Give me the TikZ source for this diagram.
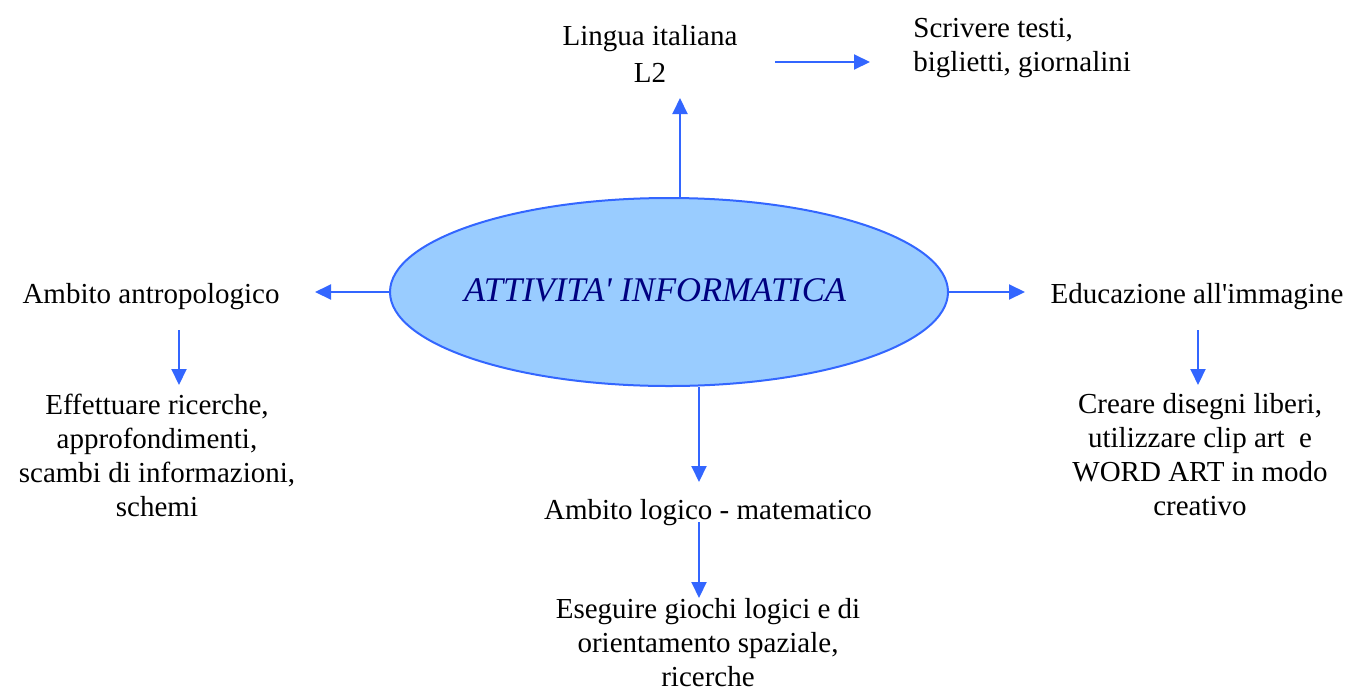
\documentclass[tikz,border=0pt]{standalone}
\usepackage{fontspec}
\setmainfont{Liberation Serif}
\usetikzlibrary{shapes.geometric,arrows.meta}
\definecolor{arrblue}{HTML}{3366FF}
\definecolor{ellfill}{HTML}{99CCFF}
\definecolor{navy}{HTML}{000080}
\begin{document}
\begin{tikzpicture}[x=0.5pt,y=-0.5pt,
  txt/.style={align=center,inner sep=0pt,font=\fontsize{14.5}{17}\selectfont},
  arr/.style={draw=arrblue,line width=1pt,-{Triangle[length=8pt,width=7.5pt]}}]
\useasboundingbox (0,0) rectangle (1348,691);
\node[ellipse,draw=arrblue,line width=1pt,fill=ellfill,minimum width=279pt,minimum height=94pt,inner sep=0pt] (el) at (669,292) {};
\node[txt,font=\fontsize{17.3}{20}\selectfont\itshape,text=navy] (eltxt) at (655,290) {ATTIVITA\textquotesingle{} INFORMATICA};
\node[txt,font=\fontsize{14.5}{18.5}\selectfont] (ling) at (650,54) {Lingua italiana\\L2};
\node[txt,align=left,anchor=west] (scr) at (913,48) {Scrivere testi,\\biglietti, giornalini};
\node[txt] (antro) at (151,297) {Ambito antropologico};
\node[txt] (eff) at (157,455) {Effettuare ricerche,\\approfondimenti,\\scambi di informazioni,\\schemi};
\node[txt] (edu) at (1197,297) {Educazione all\textquotesingle{}immagine};
\node[txt] (cre) at (1200,455) {Creare disegni liberi,\\utilizzare clip art\ \ e\\WORD ART in modo\\creativo};
\node[txt] (log) at (708,513) {Ambito logico - matematico};
\node[txt] (ese) at (708,643) {Eseguire giochi logici e di\\orientamento spaziale,\\ricerche};
\coordinate (upT) at (680,98);
\coordinate (dnT) at (699,482);
\coordinate (lfT) at (315,292);
\coordinate (rtT) at (1025,292);
\coordinate (lsS) at (775,62);
\coordinate (lsT) at (870,62);
\coordinate (aeS) at (179,330);
\coordinate (aeT) at (179,385);
\coordinate (ecS) at (1198,330);
\coordinate (ecT) at (1198,385);
\coordinate (leS) at (699,522);
\coordinate (leT) at (699,598);
\draw[arr] (el.north -| upT) -- (upT);
\draw[arr] (el.south -| dnT) -- (dnT);
\draw[arr] (el.west) -- (lfT);
\draw[arr] (el.east) -- (rtT);
\draw[arr] (lsS) -- (lsT);
\draw[arr] (aeS) -- (aeT);
\draw[arr] (ecS) -- (ecT);
\draw[arr] (leS) -- (leT);
\end{tikzpicture}
\end{document}
